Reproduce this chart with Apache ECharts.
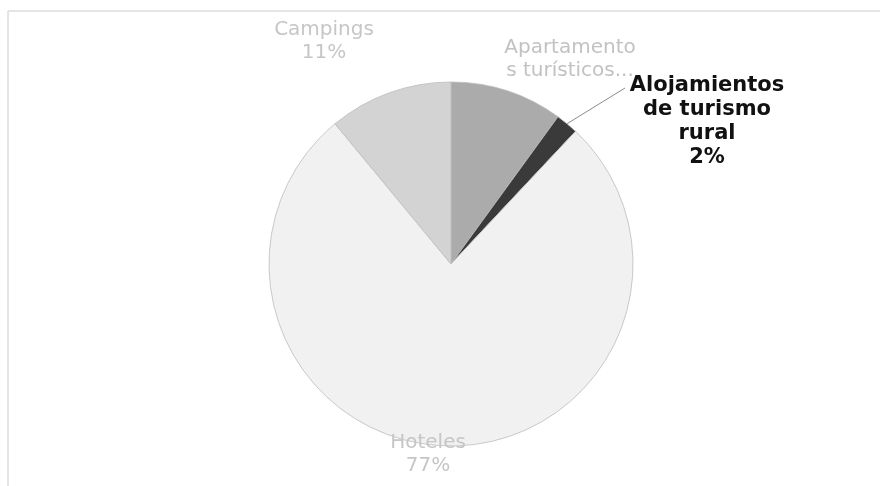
<!DOCTYPE html>
<html>
<head>
<meta charset="utf-8">
<script src="https://cdn.jsdelivr.net/npm/echarts@6/dist/echarts.min.js"></script>
<style>html,body{margin:0;padding:0;background:#fff}#c{width:880px;height:486px}</style>
</head>
<body>
<div id="c"></div>
<script>
var categories = ['Apartamentos turísticos', 'Alojamientos de turismo rural', 'Hoteles', 'Campings'];
var values = [10, 2, 77, 11];
var labelTexts = ['Apartamento\ns turísticos...', 'Alojamientos\nde turismo\nrural\n2%', 'Hoteles\n77%', 'Campings\n11%'];
var colors = ['#ababab', '#3a3a3a', '#f1f1f1', '#d3d3d3'];

var labelPos = [
  {x: 570, y: 59},
  {x: 707, y: 122},
  {x: 428, y: 454},
  {x: 324, y: 41}
];

var chart = echarts.init(document.getElementById('c'));
chart.setOption({
  animation: false,
  graphic: [
    {type: 'line', shape: {x1: 8, y1: 11, x2: 880, y2: 11}, style: {stroke: '#dcdcdc', lineWidth: 1.5}},
    {type: 'line', shape: {x1: 8, y1: 11, x2: 8, y2: 486}, style: {stroke: '#dcdcdc', lineWidth: 1.5}}
  ],
  series: [{
    type: 'pie',
    center: [451, 264],
    radius: 182,
    startAngle: 90,
    clockwise: true,
    avoidLabelOverlap: false,
    itemStyle: {borderColor: '#bdbdbd', borderWidth: 0.8},
    data: categories.map(function (c, i) {
      var isRural = i === 1;
      return {
        name: c,
        value: values[i],
        itemStyle: {color: colors[i]},
        label: {
          show: true,
          formatter: labelTexts[i],
          color: isRural ? '#111' : (i === 0 ? '#c2c2c2' : '#c6c6c6'),
          fontFamily: 'DejaVu Sans',
          fontWeight: isRural ? 'bold' : 'normal',
          fontSize: isRural ? 21 : 20,
          lineHeight: isRural ? 24 : 23,
          align: 'center'
        },
        labelLine: {show: isRural, length: 20, length2: 20, lineStyle: {color: '#8a8a8a', width: 1}}
      };
    }),
    labelLayout: function (p) {
      var lp = labelPos[p.dataIndex];
      var r = {x: lp.x, y: lp.y, align: 'center', verticalAlign: 'middle'};
      if (p.dataIndex === 1 && p.labelLinePoints) {
        var s = p.labelLinePoints[0];
        var e = [lp.x - 82, lp.y - 34];
        r.labelLinePoints = [s, [(s[0] + e[0]) / 2, (s[1] + e[1]) / 2], e];
      }
      return r;
    }
  }]
});
</script>
</body>
</html>
